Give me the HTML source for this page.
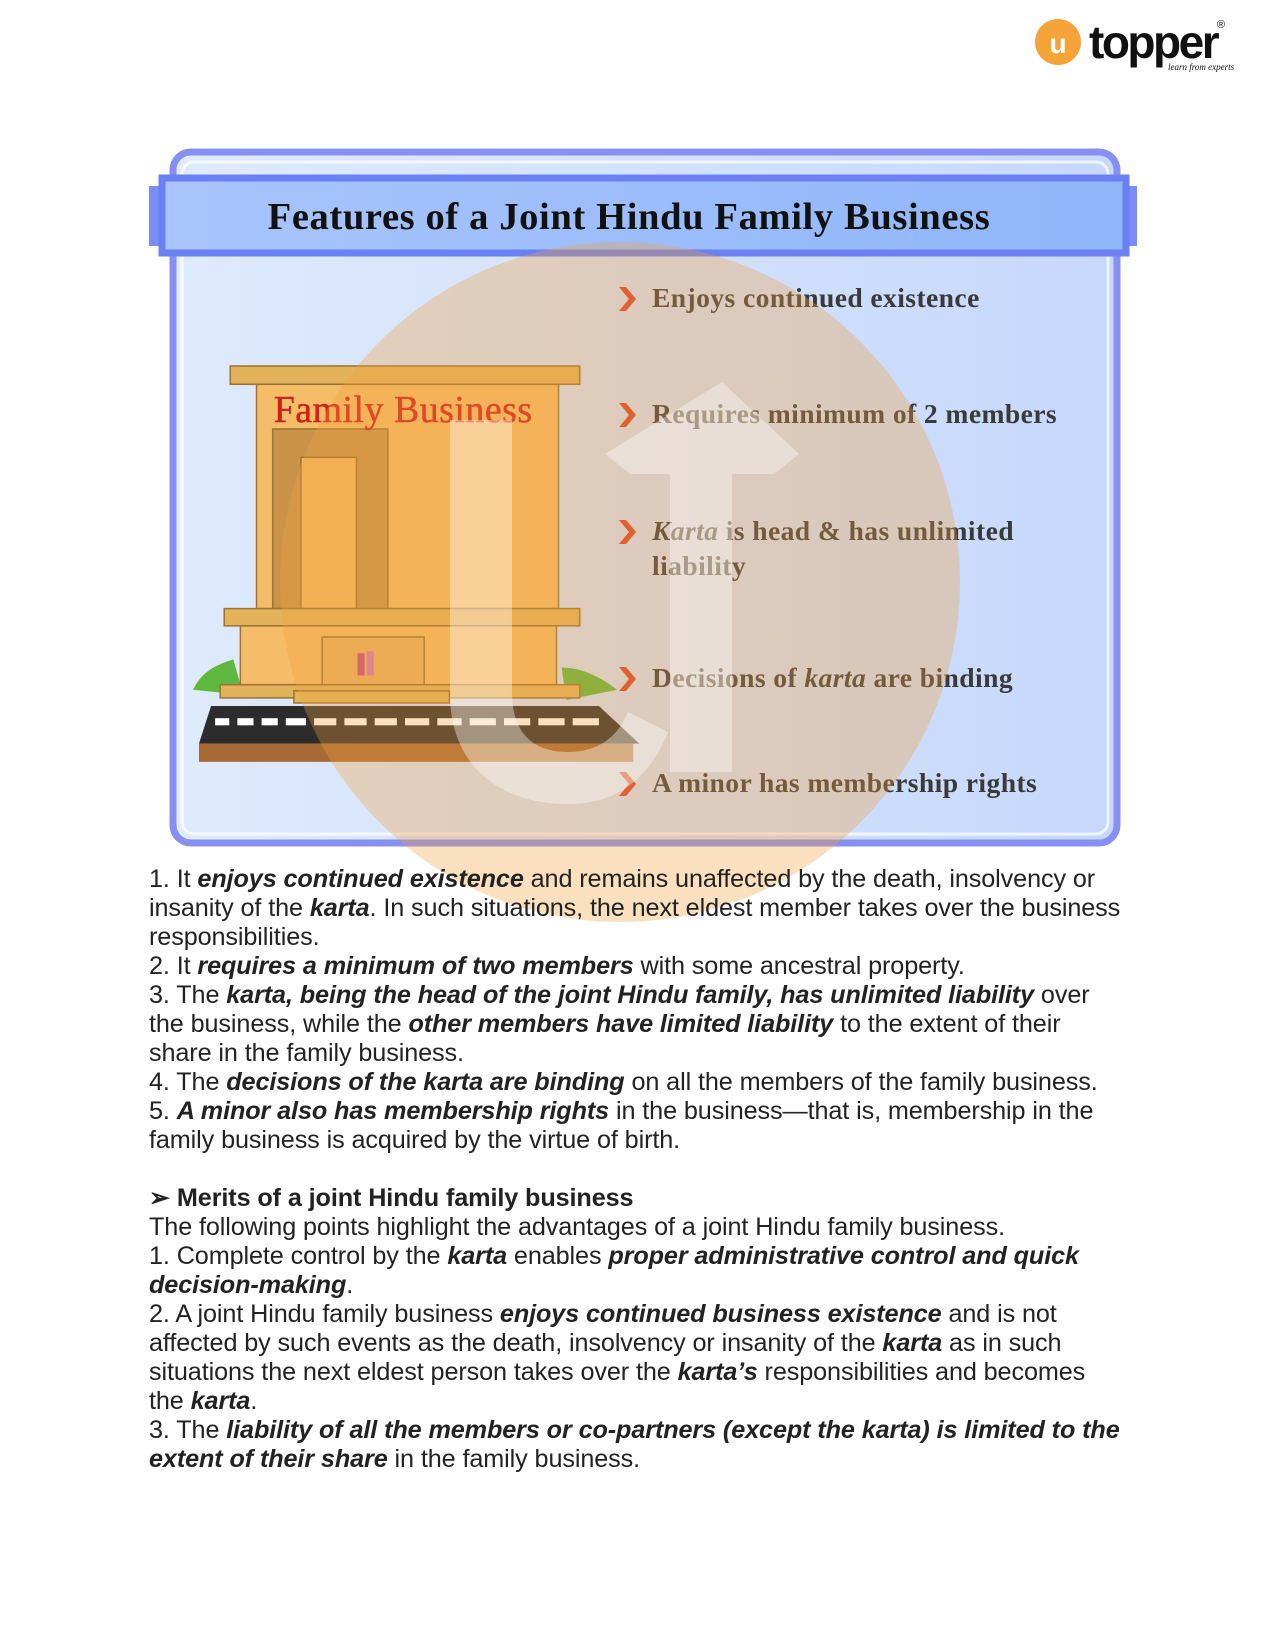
<!DOCTYPE html>
<html><head><meta charset="utf-8">
<style>
*{margin:0;padding:0;box-sizing:border-box}
body{width:1275px;height:1650px;background:#fff;position:relative;overflow:hidden;font-family:"Liberation Sans",Arial,sans-serif}
.txt{position:absolute;left:149px;top:865px;font-size:25.2px;line-height:29px;color:#222;white-space:nowrap;letter-spacing:-0.1px}
.txt b{font-style:italic}
</style></head><body>
<svg width="1275" height="1650" style="position:absolute;left:0;top:0">
<defs>
<linearGradient id="bg" x1="0" x2="1"><stop offset="0" stop-color="#dfeafd"/><stop offset="1" stop-color="#c6d8fb"/></linearGradient>
<linearGradient id="hd" x1="0" x2="1"><stop offset="0" stop-color="#a9c4fb"/><stop offset="1" stop-color="#8fb6fb"/></linearGradient>
</defs>
<!-- logo -->
<circle cx="1058" cy="42" r="23" fill="#f5a43a"/>
<text x="1058" y="53" font-family="Liberation Sans" font-weight="bold" font-size="28" fill="#fff" text-anchor="middle">u</text>
<text x="1089" y="58" font-family="Liberation Sans" font-weight="bold" font-size="46" fill="#111" letter-spacing="-2.5">topper</text>
<text x="1217" y="28" font-family="Liberation Sans" font-size="11" fill="#111">®</text>
<text x="1168" y="70" font-family="Liberation Serif" font-style="italic" font-size="9" fill="#111">learn from experts</text>
<!-- frame -->
<rect x="173" y="152" width="944" height="691" rx="18" fill="url(#bg)" stroke="#8790f2" stroke-width="7"/>
<rect x="182" y="162" width="926" height="672" rx="12" fill="none" stroke="#fff" stroke-opacity="0.7" stroke-width="3"/>
<rect x="149" y="186" width="988" height="60" fill="#7a8df2"/>
<rect x="162" y="178" width="964" height="75" fill="url(#hd)" stroke="#6b80f2" stroke-width="7"/>
<text x="629" y="229" font-family="Liberation Serif" font-weight="bold" font-size="38.6" fill="#111" text-anchor="middle" letter-spacing="0.6">Features of a Joint Hindu Family Business</text>
<!-- bullets -->
<g font-family="Liberation Serif" font-weight="bold" font-size="27.6" fill="#3a3a3a" letter-spacing="0.4">
<g fill="#d9412a"><path d="M619 287l10 12-10 12h7l10-12-10-12z"/><path d="M619 403l10 12-10 12h7l10-12-10-12z"/><path d="M619 520l10 12-10 12h7l10-12-10-12z"/><path d="M619 667l10 12-10 12h7l10-12-10-12z"/><path d="M619 772l10 12-10 12h7l10-12-10-12z"/></g>
<text x="652" y="307">Enjoys continued existence</text>
<text x="652" y="423">Requires minimum of 2 members</text>
<text x="652" y="540"><tspan font-style="italic">Karta</tspan> is head &amp; has unlimited</text>
<text x="652" y="575">liability</text>
<text x="652" y="687">Decisions of <tspan font-style="italic">karta</tspan> are binding</text>
<text x="652" y="792">A minor has membership rights</text>
</g>
<!-- building -->
<g transform="translate(1,366) scale(1.01,1.015) translate(0,-363)">
<g stroke="#9a7434" stroke-width="1.5">
<path d="M190 682c10-20 25-25 40-30l10 35z" fill="#5fb83e" stroke="none"/>
<path d="M555 660c20 0 40 10 55 22l-50 10z" fill="#5fb83e" stroke="none"/>
<rect x="253" y="381" width="299" height="221" fill="#f6bd68"/>
<rect x="227" y="363" width="346" height="18" fill="#e3b35c"/>
<rect x="269" y="425" width="114" height="177" fill="#c99449"/>
<rect x="297" y="453" width="55" height="149" fill="#f6b85e"/>
<rect x="221" y="602" width="352" height="17" fill="#e3b35c"/>
<rect x="237" y="619" width="313" height="58" fill="#f6bd68"/>
<rect x="318" y="630" width="101" height="47" fill="#eab160"/>
<rect x="217" y="677" width="356" height="13" fill="#e3b35c"/>
<rect x="290" y="683" width="154" height="12" fill="#e3b35c"/>
</g>
<text x="270" y="418" font-family="Liberation Serif" font-size="37.5" fill="#d2201a" stroke="#d2201a" stroke-width="0.5" letter-spacing="0.5">Family Business</text>
<path d="M208 698H592L632 735H196z" fill="#2c2c2c"/>
<g fill="#fff"><rect x="212" y="710" width="14" height="7"/><rect x="234" y="710" width="16" height="7"/><rect x="258" y="710" width="16" height="7"/><rect x="282" y="710" width="20" height="7"/><rect x="310" y="710" width="22" height="7"/><rect x="340" y="710" width="22" height="7"/><rect x="370" y="710" width="22" height="7"/><rect x="400" y="710" width="24" height="7"/><rect x="432" y="710" width="24" height="7"/><rect x="464" y="710" width="26" height="7"/><rect x="498" y="710" width="26" height="7"/><rect x="532" y="710" width="26" height="7"/><rect x="566" y="710" width="26" height="7"/></g>
<rect x="196" y="735" width="430" height="18" fill="#a86a35"/>
<rect x="353" y="646" width="7" height="22" fill="#c84a8a"/><rect x="362" y="644" width="7" height="24" fill="#d27ab8"/>
</g>
<!-- watermark -->
<circle cx="620" cy="582" r="340" fill="#f4a23c" opacity="0.33"/>
<g fill="#fff" opacity="0.38">
<path d="M450 420h62v272c0 40 20 60 56 60 30 0 50-15 60-40l40 20c-20 50-55 72-100 72-70 0-118-40-118-110z"/>
<path d="M670 772V474h-40l-25-20 117-72 77 72-25 20h-42v298z"/>
</g>
</svg>
<div class="txt">1. It <b>enjoys continued existence</b> and remains unaffected by the death, insolvency or<br>insanity of the <b>karta</b>. In such situations, the next eldest member takes over the business<br>responsibilities.<br>2. It <b>requires a minimum of two members</b> with some ancestral property.<br>3. The <b>karta, being the head of the joint Hindu family, has unlimited liability</b> over<br>the business, while the <b>other members have limited liability</b> to the extent of their<br>share in the family business.<br>4. The <b>decisions of the karta are binding</b> on all the members of the family business.<br>5. <b>A minor also has membership rights</b> in the business—that is, membership in the<br>family business is acquired by the virtue of birth.<br><br><span style="font-weight:bold">➢ Merits of a joint Hindu family business</span><br>The following points highlight the advantages of a joint Hindu family business.<br>1. Complete control by the <b>karta</b> enables <b>proper administrative control and quick<br>decision-making</b>.<br>2. A joint Hindu family business <b>enjoys continued business existence</b> and is not<br>affected by such events as the death, insolvency or insanity of the <b>karta</b> as in such<br>situations the next eldest person takes over the <b>karta’s</b> responsibilities and becomes<br>the <b>karta</b>.<br>3. The <b>liability of all the members or co-partners (except the karta) is limited to the<br>extent of their share</b> in the family business.</div>
</body></html>
